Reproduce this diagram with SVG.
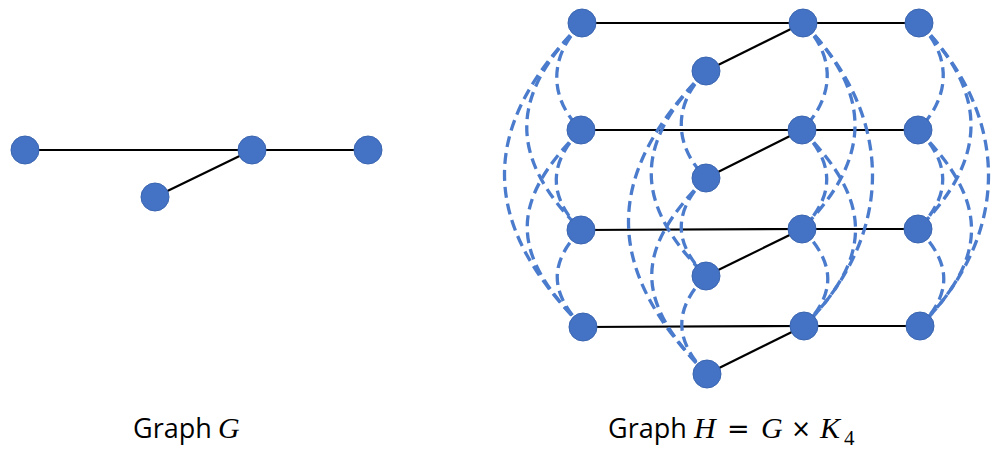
<svg xmlns="http://www.w3.org/2000/svg" width="1002" height="456" viewBox="0 0 1002 456">
  <style>
    .edge { stroke: #000; stroke-width: 2.2; fill: none; }
    .dash { stroke: #4A7BCC; stroke-width: 3.3; fill: none; stroke-dasharray: 11 6; }
    .node { fill: #4472C4; stroke: #3A65B0; stroke-width: 1; }
    .lbl { font-family: "Open Sans", "Liberation Sans", sans-serif; font-size: 27px; fill: #000; }
    .math { font-family: "Liberation Serif", "DejaVu Serif", serif; font-style: italic; font-size: 30px; fill: #000; }
    .op { font-family: "DejaVu Sans", "Liberation Sans", sans-serif; font-size: 27px; fill: #000; }
    .times { font-family: "DejaVu Sans", "Liberation Sans", sans-serif; font-size: 24px; fill: #000; }
    .sub { font-family: "Liberation Serif", "DejaVu Serif", serif; font-size: 21px; fill: #000; }
  </style>
  <rect width="1002" height="456" fill="#fff"/>

  <g id="connectors">
    <!-- Graph G -->
    <line class="edge" x1="25" y1="150" x2="252" y2="150"/>
    <line class="edge" x1="252" y1="150" x2="368" y2="150"/>
    <line class="edge" x1="155" y1="197" x2="252" y2="150"/>

    <!-- Graph H solid layer edges -->
    <line class="edge" x1="582" y1="23" x2="803" y2="23"/>
    <line class="edge" x1="803" y1="23" x2="919" y2="23"/>
    <line class="edge" x1="706" y1="71" x2="803" y2="23"/>

    <line class="edge" x1="581" y1="130" x2="802" y2="130"/>
    <line class="edge" x1="802" y1="130" x2="918" y2="130"/>
    <line class="edge" x1="706" y1="178" x2="802" y2="130"/>

    <line class="edge" x1="581" y1="230" x2="802" y2="229"/>
    <line class="edge" x1="802" y1="229" x2="918" y2="229"/>
    <line class="edge" x1="706" y1="276" x2="802" y2="229"/>

    <line class="edge" x1="583" y1="327" x2="804" y2="326"/>
    <line class="edge" x1="804" y1="326" x2="920" y2="326"/>
    <line class="edge" x1="707" y1="374" x2="804" y2="326"/>

    <!-- Column A dashed (K4) -->
    <path class="dash" d="M582 23 C549 56 548 97 581 130"/>
    <path class="dash" d="M581 130 C548 163 548 197 581 230"/>
    <path class="dash" d="M581 230 C548 263 550 294 583 327"/>
    <path class="dash" d="M582 23 C509 96 508 157 581 230"/>
    <path class="dash" d="M581 130 C508 203 510 254 583 327"/>
    <path class="dash" d="M582 23 C478 127 479 223 583 327"/>

    <!-- Column D dashed -->
    <path class="dash" d="M706 71 C673 104 673 145 706 178"/>
    <path class="dash" d="M706 178 C673 211 673 243 706 276"/>
    <path class="dash" d="M706 276 C673 309 674 341 707 374"/>
    <path class="dash" d="M706 71 C633 144 633 203 706 276"/>
    <path class="dash" d="M706 178 C633 251 634 301 707 374"/>
    <path class="dash" d="M706 71 C602 175 603 270 707 374"/>

    <!-- Column B dashed -->
    <path class="dash" d="M803 23 C836 56 835 97 802 130"/>
    <path class="dash" d="M802 130 C835 163 835 196 802 229"/>
    <path class="dash" d="M802 229 C835 262 837 293 804 326"/>
    <path class="dash" d="M803 23 C873 93 872 159 802 229"/>
    <path class="dash" d="M802 130 C872 200 874 256 804 326"/>
    <path class="dash" d="M803 23 C895 115 896 234 804 326"/>

    <!-- Column C dashed -->
    <path class="dash" d="M919 23 C952 56 951 97 918 130"/>
    <path class="dash" d="M918 130 C951 163 951 196 918 229"/>
    <path class="dash" d="M918 229 C951 262 953 293 920 326"/>
    <path class="dash" d="M919 23 C989 93 988 159 918 229"/>
    <path class="dash" d="M918 130 C988 200 990 256 920 326"/>
    <path class="dash" d="M919 23 C1011 115 1012 234 920 326"/>
  </g>

  <!-- Graph G nodes -->
  <g id="G-a"><circle class="node" cx="25" cy="150" r="14"/></g>
  <g id="G-b"><circle class="node" cx="252" cy="150" r="14"/></g>
  <g id="G-c"><circle class="node" cx="368" cy="150" r="14"/></g>
  <g id="G-d"><circle class="node" cx="155" cy="197" r="14"/></g>

  <!-- Graph H nodes -->
  <g id="H-a1"><circle class="node" cx="582" cy="23" r="14"/></g>
  <g id="H-b1"><circle class="node" cx="803" cy="23" r="14"/></g>
  <g id="H-c1"><circle class="node" cx="919" cy="23" r="14"/></g>
  <g id="H-d1"><circle class="node" cx="706" cy="71" r="14"/></g>

  <g id="H-a2"><circle class="node" cx="581" cy="130" r="14"/></g>
  <g id="H-b2"><circle class="node" cx="802" cy="130" r="14"/></g>
  <g id="H-c2"><circle class="node" cx="918" cy="130" r="14"/></g>
  <g id="H-d2"><circle class="node" cx="706" cy="178" r="14"/></g>

  <g id="H-a3"><circle class="node" cx="581" cy="230" r="14"/></g>
  <g id="H-b3"><circle class="node" cx="802" cy="229" r="14"/></g>
  <g id="H-c3"><circle class="node" cx="918" cy="229" r="14"/></g>
  <g id="H-d3"><circle class="node" cx="706" cy="276" r="14"/></g>

  <g id="H-a4"><circle class="node" cx="583" cy="327" r="14"/></g>
  <g id="H-b4"><circle class="node" cx="804" cy="326" r="14"/></g>
  <g id="H-c4"><circle class="node" cx="920" cy="326" r="14"/></g>
  <g id="H-d4"><circle class="node" cx="707" cy="374" r="14"/></g>

  <!-- Labels -->
  <g id="label-G">
    <text class="lbl" x="133" y="438">Graph</text>
    <text class="math" x="218" y="438">G</text>
  </g>
  <g id="label-H">
    <text class="lbl" x="608" y="438">Graph</text>
    <text class="math" x="694" y="438">H</text>
    <text class="op" x="727" y="438">=</text>
    <text class="math" x="761" y="438">G</text>
    <text class="times" x="791" y="437">×</text>
    <text class="math" x="820" y="438">K</text>
    <text class="sub" x="844" y="445">4</text>
  </g>
</svg>
